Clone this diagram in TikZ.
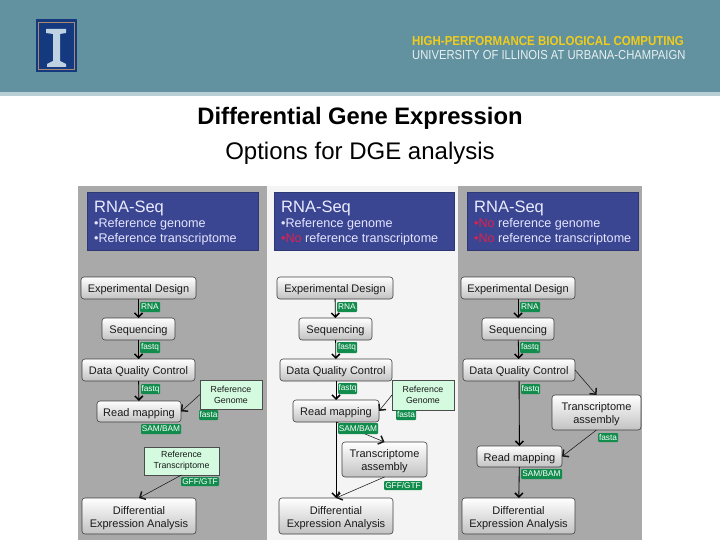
\documentclass[tikz,border=0pt]{standalone}
\usepackage{fontspec}
\setmainfont{Liberation Sans}
\usetikzlibrary{arrows.meta}
\definecolor{teal}{HTML}{62929F}
\definecolor{stripe}{HTML}{B9CDD5}
\definecolor{panelg}{HTML}{A9A9A9}
\definecolor{panelw}{HTML}{F4F4F4}
\definecolor{bluebox}{HTML}{3A4691}
\definecolor{noRed}{HTML}{E0204F}
\definecolor{green1}{HTML}{118C4C}
\definecolor{refg}{HTML}{D4FBE0}
\definecolor{navy}{HTML}{14397F}
\definecolor{logoedge}{HTML}{A98A70}
\definecolor{logocol}{HTML}{BFD2E2}
\newcommand{\bx}[6]{\node[#1,minimum width={(#5-#3)*1pt},minimum height={(#6-#4)*1pt}] (#2) at ({(#3+#5)/2},{(#4+#6)/2})}
\newcommand{\dn}[1]{\raisebox{-4.7pt}[0pt][0pt]{\begin{tabular}{@{}c@{}}#1\end{tabular}}}
\tikzset{
  proc/.style={draw=black!75,line width=0.6pt,rounded corners=3pt,top color=white,bottom color=black!24,inner sep=0pt,outer sep=0pt,align=center,text=black!90,font=\fontsize{11}{13}\selectfont},
  bigproc/.style={proc,font=\fontsize{11}{13}\selectfont},
  refbox/.style={draw=black!70,line width=0.5pt,fill=refg,inner sep=0pt,outer sep=0pt,align=center,text=black!90,font=\fontsize{8.8}{11.2}\selectfont},
  lab/.style={fill=green1,rounded corners=1pt,inner sep=0pt,outer sep=0pt,text=white,font=\fontsize{8.3}{9}\selectfont},
  blue/.style={fill=bluebox,draw=bluebox!80!black,line width=0.4pt,inner sep=0pt,outer sep=0pt},
  hd/.style={anchor=base west,text=white!92!blue,inner sep=0pt,font=\fontsize{16.5}{18}\selectfont},
  bl/.style={anchor=base west,text=white!90!blue,inner sep=0pt,font=\fontsize{12.6}{14}\selectfont},
  conn/.style={draw=black,line width=0.85pt,-{Straight Barb[length=4pt,width=8pt,line width=1.5pt]}},
  thin conn/.style={draw=black!90,line width=0.55pt,-{Straight Barb[length=4.5pt,width=9pt,line width=1.5pt]}},
}
\begin{document}
\begin{tikzpicture}[x=1pt,y=-1pt]
\useasboundingbox (0,0) rectangle (720,540);
% header
\fill[teal] (0,0) rectangle (720,92);
\fill[stripe] (0,92) rectangle (720,96);
% logo
\fill[navy] (36,19) rectangle (77,72);
\draw[draw=logoedge,line width=0.9pt] (38.5,22) rectangle (74.5,69.5);
\fill[logocol] (46,29) -- (66,29) -- (66,33) -- (60,34) -- (60,61) -- (66,64) -- (66,67) -- (47,67) -- (47,64) -- (53,61) -- (53,34) -- (46,33) -- cycle;
\node[anchor=base west,inner sep=0pt,text=yellow!70!orange!90!gray,font=\bfseries\fontsize{13}{14}\selectfont,xscale=0.885,transform shape] (t1) at (412,46) {HIGH-PERFORMANCE BIOLOGICAL COMPUTING};
\node[anchor=base west,inner sep=0pt,text=white!85!teal,font=\fontsize{13}{14}\selectfont,xscale=0.865,transform shape] (t2) at (412,60) {UNIVERSITY OF ILLINOIS AT URBANA-CHAMPAIGN};
% titles
\node[inner sep=0pt,font=\bfseries\fontsize{23.8}{26}\selectfont] (title) at (360,118.5) {Differential Gene Expression};
\node[inner sep=0pt,font=\fontsize{24}{26}\selectfont] (sub) at (360,153.5) {Options for DGE analysis};
% panels
\fill[panelg] (78,186) rectangle (267,540);
\fill[panelw] (267,186) rectangle (458,540);
\fill[panelg] (458,186) rectangle (642,540);
% blue boxes
\bx{blue}{b1}{87}{192}{258}{250} {};
\bx{blue}{b2}{274}{192}{454}{250} {};
\bx{blue}{b3}{467}{192}{638}{250} {};
\node[hd] (h1) at (94,212) {RNA-Seq};
\node[bl] (a1) at (94,228) {•Reference genome};
\node[bl] (a2) at (94,243) {•Reference transcriptome};
\node[hd] (h2) at (281,212) {RNA-Seq};
\node[bl] (c1) at (281,228) {•Reference genome};
\node[bl] (c2) at (281,243) {\textcolor{noRed}{•No} reference transcriptome};
\node[hd] (h3) at (474,212) {RNA-Seq};
\node[bl] (d1) at (474,228) {\textcolor{noRed}{•No} reference genome};
\node[bl] (d2) at (474,243) {\textcolor{noRed}{•No} reference transcriptome};
% panel 1
\bx{proc}{ed1}{81}{277}{196}{299} {\dn{Experimental Design}};
\bx{proc}{sq1}{102}{318}{175}{340} {\dn{Sequencing}};
\bx{proc}{dq1}{82}{359}{195}{381} {\dn{Data Quality Control}};
\bx{proc}{rm1}{97}{401}{181}{422} {\dn{Read mapping}};
\bx{refbox}{rg1}{200}{380}{262}{409} {Reference\\Genome};
\bx{refbox}{rt1}{144}{447}{219}{475} {Reference\\Transcriptome};
\bx{bigproc}{de1}{82}{498}{196}{534} {\dn{Differential\\Expression Analysis}};
\draw[conn] (ed1) -- (sq1);
\draw[conn] (sq1) -- (dq1);
\draw[conn] (dq1) -- (rm1);
\draw[thin conn] (rg1.west) -- (rm1.east);
\draw[thin conn] (rt1.south) -- (de1.north);
\bx{lab}{l11}{140}{302}{160}{312} {RNA};
\bx{lab}{l12}{140}{342}{160}{353} {fastq};
\bx{lab}{l13}{141}{384}{160}{394} {fastq};
\bx{lab}{l14}{199}{410}{218}{420} {fasta};
\bx{lab}{l15}{141}{424}{181}{434} {SAM/BAM};
\bx{lab}{l16}{181}{477}{219}{486} {GFF/GTF};
% panel 2
\bx{proc}{ed2}{277}{277}{393}{299} {\dn{Experimental Design}};
\bx{proc}{sq2}{299}{318}{372}{340} {\dn{Sequencing}};
\bx{proc}{dq2}{280}{359}{392}{381} {\dn{Data Quality Control}};
\bx{proc}{rm2}{293}{400}{379}{422} {\dn{Read mapping}};
\bx{refbox}{rg2}{392}{380}{454}{410} {Reference\\Genome};
\bx{bigproc}{ta2}{342}{442}{427}{477} {\dn{Transcriptome\\assembly}};
\bx{bigproc}{de2}{279}{498}{393}{534} {\dn{Differential\\Expression Analysis}};
\draw[conn] (ed2) -- (sq2);
\draw[conn] (sq2) -- (dq2);
\draw[conn] (dq2) -- (rm2);
\draw[conn] (rm2) -- (de2);
\draw[thin conn] (rg2.west) -- (rm2.east);
\draw[thin conn] (rm2.south) -- (ta2.north);
\draw[thin conn] (ta2.south) -- (de2.north);
\bx{lab}{l21}{337}{302}{357}{312} {RNA};
\bx{lab}{l22}{337}{342}{357}{353} {fastq};
\bx{lab}{l23}{338}{383}{357}{394} {fastq};
\bx{lab}{l24}{396}{410}{416}{420} {fasta};
\bx{lab}{l25}{338}{423}{378}{434} {SAM/BAM};
\bx{lab}{l26}{384}{481}{422}{490} {GFF/GTF};
% panel 3
\bx{proc}{ed3}{461}{277}{575}{299} {\dn{Experimental Design}};
\bx{proc}{sq3}{482}{318}{554}{340} {\dn{Sequencing}};
\bx{proc}{dq3}{463}{359}{575}{381} {\dn{Data Quality Control}};
\bx{bigproc}{ta3}{552}{395}{641}{430} {\dn{Transcriptome\\assembly}};
\bx{proc}{rm3}{477}{446}{562}{467} {\dn{Read mapping}};
\bx{bigproc}{de3}{462}{498}{575}{534} {\dn{Differential\\Expression Analysis}};
\draw[conn] (ed3) -- (sq3);
\draw[conn] (sq3) -- (dq3);
\draw[conn] (dq3) -- (rm3);
\draw[conn] (rm3) -- (de3);
\draw[thin conn] (dq3.east) -- (ta3.north);
\draw[thin conn] (ta3.south) -- (rm3.east);
\bx{lab}{l31}{520}{302}{540}{312} {RNA};
\bx{lab}{l32}{520}{342}{540}{353} {fastq};
\bx{lab}{l33}{521}{384}{540}{394} {fastq};
\bx{lab}{l34}{598}{433}{618}{442} {fasta};
\bx{lab}{l35}{521}{469}{562}{479} {SAM/BAM};
\end{tikzpicture}
\end{document}
